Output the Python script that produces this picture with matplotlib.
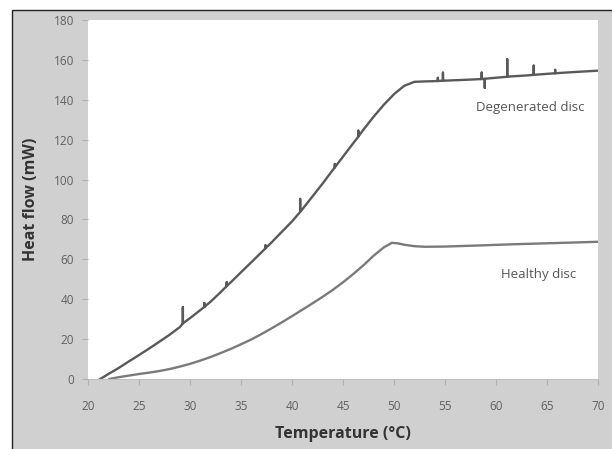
import numpy as np
import matplotlib.pyplot as plt
from matplotlib.patches import Rectangle

plt.rcParams['font.family'] = ['Open Sans', 'DejaVu Sans']

# Degenerated disc (temperature in °C, heat flow in mW), spikes kept as read
deg_t = [21.2, 22, 23, 24, 25, 26, 27, 28, 29, 29.3, 29.3, 29.3, 30, 31, 31.4, 31.4, 31.4,
         32, 33, 33.6, 33.6, 33.6, 34, 35, 36, 37, 37.4, 37.4, 37.4, 38, 39, 40, 40.8, 40.8, 40.8,
         41, 42, 43, 44, 44.2, 44.2, 44.2, 45, 46, 46.5, 46.5, 46.5, 47, 48, 49, 50, 51, 52, 53,
         54.3, 54.3, 54.3, 54.8, 54.8, 54.8, 55, 57, 58.6, 58.6, 58.6, 58.9, 58.9, 58.9, 59, 61, 61.1, 61.1, 61.1,
         63, 63.7, 63.7, 63.7, 65, 65.8, 65.8, 65.8, 67, 70]
deg_q = [0, 2.5, 5.5, 8.8, 12.0, 15.3, 18.7, 22.2, 26.0, 27.9, 36.0, 27.9, 30.5, 34.5, 36.1, 38.0, 36.1,
         38.7, 43.5, 46.6, 48.5, 46.6, 48.5, 53.5, 58.5, 63.5, 65.5, 67.0, 65.5, 68.5, 73.8, 79.0, 83.8, 90.3, 83.8,
         85.0, 91.5, 98.0, 104.8, 106.1, 107.8, 106.1, 111.5, 118.2, 121.5, 124.5, 121.5, 125.0, 131.5, 137.5, 142.8, 147.0, 149.0, 149.2,
         149.4, 151.0, 149.4, 149.6, 153.6, 149.6, 149.6, 150.0, 150.4, 153.6, 150.4, 150.5, 146.0, 150.5, 150.6, 151.5, 151.6, 160.3, 151.6,
         152.2, 152.5, 157.1, 152.5, 153.0, 153.3, 155.0, 153.3, 153.7, 154.6]

# Healthy disc
hea_t = [22.1, 23, 24, 25, 26, 27, 28, 29, 30, 31, 32, 33, 34, 35, 36, 37, 38, 39, 40,
         41, 42, 43, 44, 45, 46, 47, 48, 49, 49.8, 50.4, 51, 52, 53, 55, 58, 62, 66, 70]
hea_q = [0, 0.9, 1.7, 2.5, 3.2, 4.0, 5.0, 6.2, 7.6, 9.2, 11.0, 13.0, 15.1, 17.4, 19.8, 22.5, 25.4, 28.4, 31.5,
         34.7, 37.9, 41.2, 44.7, 48.5, 52.6, 57.0, 61.8, 66.0, 68.3, 68.0, 67.3, 66.6, 66.3, 66.4, 66.9, 67.6, 68.2, 68.8]

x_ticks = list(range(20, 71, 5))
y_ticks = list(range(0, 181, 20))

fig = plt.figure(figsize=(6.12, 4.49), dpi=100, facecolor='white')
# grey frame behind the chart
fig.patches.append(Rectangle((12 / 612, -0.1), 1.2, 1.1 - 10 / 449, transform=fig.transFigure,
                             facecolor='#d0d0d0', edgecolor='#222222', linewidth=1, zorder=-10))

ax = fig.add_axes([88 / 612, 1 - 379 / 449, (598 - 88) / 612, (379 - 20) / 449])
ax.set_facecolor('white')

ax.plot(deg_t, deg_q, color='#595959', lw=1.7, solid_joinstyle='round')
ax.plot(hea_t, hea_q, color='#7a7a7a', lw=1.7, solid_joinstyle='round')

ax.set_xlim(20, 70)
ax.set_ylim(0, 180)
ax.set_xticks(x_ticks)
ax.set_yticks(y_ticks)
ax.tick_params(axis='both', colors='#b0b0b0', labelcolor='#606060', labelsize=8.5, length=4, width=0.8)
ax.tick_params(axis='x', pad=11)
ax.tick_params(axis='y', pad=6)
for s in ['top', 'right', 'left']:
    ax.spines[s].set_visible(False)
ax.spines['bottom'].set_color('#c0c0c0')

ax.text(58.0, 136, 'Degenerated disc', fontsize=9.5, color='#555555', va='center')
ax.text(60.5, 52.5, 'Healthy disc', fontsize=9.5, color='#555555', va='center')

fig.text(343 / 612, 1 - 434 / 449, 'Temperature (°C)', fontsize=11.5, fontweight='bold',
         color='#333333', ha='center', va='center')
fig.text(31 / 612, 1 - 199 / 449, 'Heat flow (mW)', fontsize=11.5, fontweight='bold',
         color='#333333', ha='center', va='center', rotation=90)

fig.savefig('out.png', dpi=100, facecolor=fig.get_facecolor())
